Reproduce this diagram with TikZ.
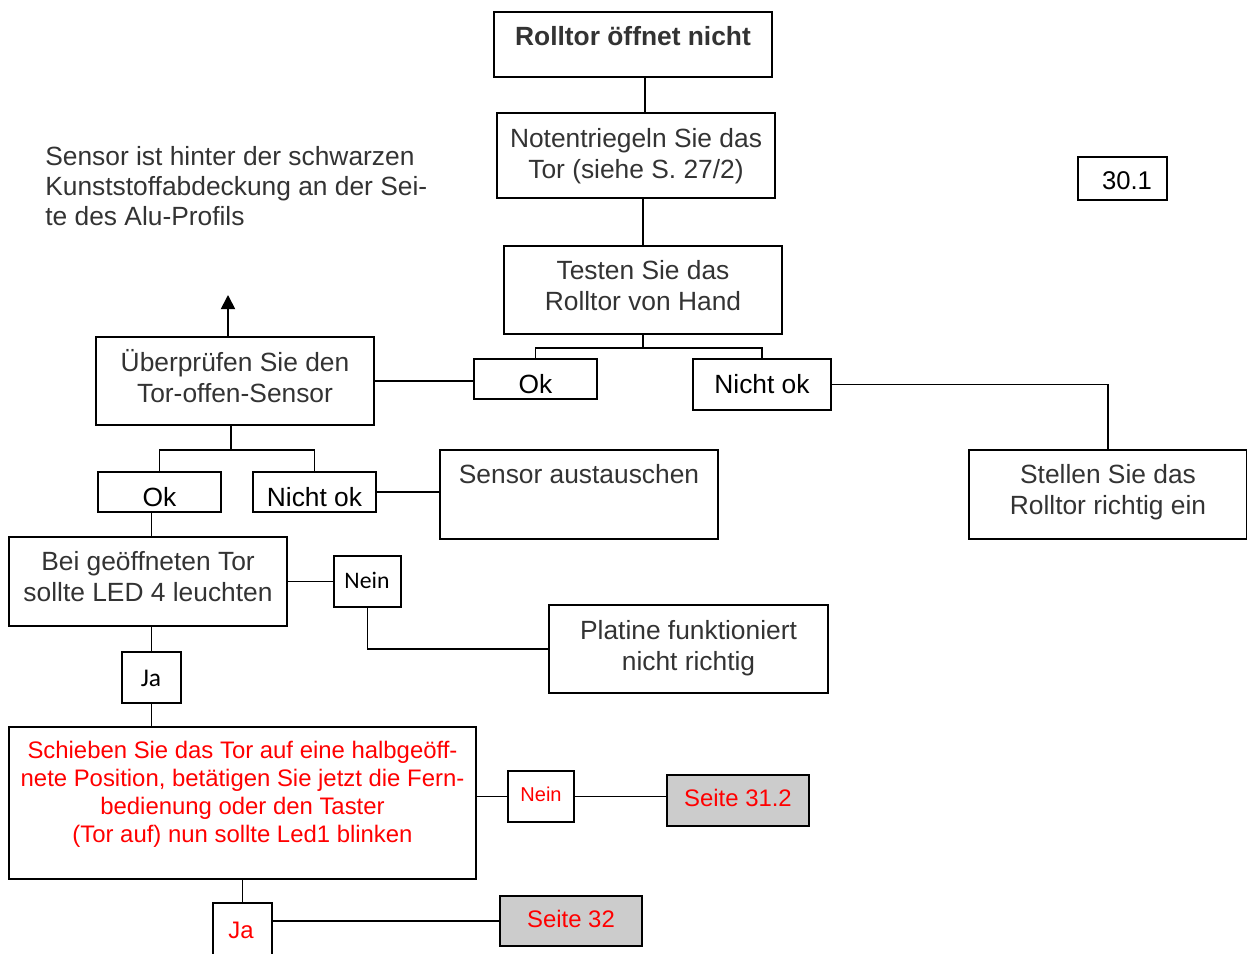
\documentclass[tikz,border=0pt]{standalone}
\usepackage{fontspec}
\setmainfont{Liberation Sans}
\newfontfamily\calibri{Carlito}
\usetikzlibrary{arrows.meta}
\definecolor{textgray}{HTML}{333333}
\definecolor{boxgray}{HTML}{CCCCCC}
\def\pu{0.02cm}
\tikzset{box/.style={draw,line width=1.2pt,rectangle,inner sep=0pt}}
\tikzset{seitebox/.style={box,fill=boxgray}}
\tikzset{txt/.style={inner sep=0pt,align=center,text=textgray,font=\fontsize{15}{17.6}\selectfont}}
\tikzset{antwort/.style={txt,text=black}}
\tikzset{janein/.style={txt,text=black,font=\calibri\fontsize{13.5}{16}\selectfont}}
\tikzset{rottxt/.style={txt,text=red,font=\fontsize{13.6}{15.9}\selectfont}}
\tikzset{conn/.style={line width=1pt}}

\begin{document}
\begin{tikzpicture}[x=0.02cm,y=-0.02cm]

\useasboundingbox (0,0) rectangle (1247,953);

    %   Kopf
    \node[box,minimum width=278*\pu,minimum height=65*\pu] (titel) at (633,44.5) {};
    \node[txt,font=\bfseries\fontsize{15}{17.6}\selectfont] (titeltxt) at (633,36) {Rolltor öffnet nicht};
    \node[box,minimum width=278*\pu,minimum height=85*\pu] (notiz) at (636,155.5) {};
    \node[txt] (notiztxt) at (636,156) {Notentriegeln Sie das\\Tor (siehe S. 27/2)};
    \node[box,minimum width=278*\pu,minimum height=88*\pu] (test) at (643,290) {};
    \node[txt] (testtxt) at (643,285.5) {Testen Sie das\\Rolltor von Hand};
    \node[box,minimum width=89*\pu,minimum height=43*\pu] (nummer) at (1122.5,178.5) {};
    \node[antwort,font=\fontsize{14.6}{17}\selectfont] (nummertxt) at (1127,181) {30.1};

    %   Hinweis
    \node[txt,align=left,anchor=west,font=\fontsize{15}{17.3}\selectfont] (hinweis) at (45,186)
        {Sensor ist hinter der schwarzen\\Kunststoffabdeckung an der Sei-\\te des Alu-Profils};

    %   Ok / Nicht ok (oben)
    \node[box,minimum width=123*\pu,minimum height=40*\pu] (ok1) at (535.5,379) {};
    \node[antwort] (ok1txt) at (535.5,384) {Ok};
    \node[box,minimum width=138*\pu,minimum height=51*\pu] (nicht1) at (762,384.5) {};
    \node[antwort] (nicht1txt) at (762,384) {Nicht ok};
    \node[box,minimum width=278*\pu,minimum height=89*\pu] (stellen) at (1108,494.5) {};
    \node[txt] (stellentxt) at (1108,492) {Stellen Sie das\\Rolltor richtig ein};

    %   Sensor
    \node[box,minimum width=278*\pu,minimum height=88*\pu] (pruef) at (235,381) {};
    \node[txt] (prueftxt) at (235,376.5) {Überprüfen Sie den\\Tor-offen-Sensor};
    \coordinate (hoch) at (228,295);
    \node[box,minimum width=123*\pu,minimum height=40*\pu] (ok2) at (159.5,492) {};
    \node[antwort] (ok2txt) at (159.5,497) {Ok};
    \node[box,minimum width=123*\pu,minimum height=40*\pu] (nicht2) at (314.5,492) {};
    \node[antwort] (nicht2txt) at (314.5,497) {Nicht ok};
    \node[box,minimum width=278*\pu,minimum height=89*\pu] (sensor) at (579,494.5) {};
    \node[txt] (sensortxt) at (579,474) {Sensor austauschen};

    %   LED 4
    \node[box,minimum width=278*\pu,minimum height=89*\pu] (bei) at (148,581.5) {};
    \node[txt] (beitxt) at (148,576.5) {Bei geöffneten Tor\\sollte LED 4 leuchten};
    \node[box,minimum width=67*\pu,minimum height=51*\pu] (nein1) at (367.5,581.5) {};
    \node[janein] (nein1txt) at (367,580) {Nein};
    \node[box,minimum width=279*\pu,minimum height=88*\pu] (platine) at (688.5,649) {};
    \node[txt] (platinetxt) at (688.5,648) {Platine funktioniert\\nicht richtig};
    \node[box,minimum width=59*\pu,minimum height=51*\pu] (ja1) at (151.5,677.5) {};
    \node[janein,font=\calibri\fontsize{14.5}{16}\selectfont] (ja1txt) at (151,678) {Ja};

    %   Led1 (rot)
    \node[box,minimum width=467*\pu,minimum height=152*\pu] (schieben) at (242.5,803) {};
    \node[rottxt] (schiebentxt) at (242.5,794)
        {Schieben Sie das Tor auf eine halbgeöff-\\nete Position, betätigen Sie jetzt die Fern-\\bedienung oder den Taster\\(Tor auf) nun sollte Led1 blinken};
    \node[box,line width=1pt,minimum width=66*\pu,minimum height=51*\pu] (nein2) at (541,796.5) {};
    \node[rottxt,font=\fontsize{11.4}{13}\selectfont] (nein2txt) at (541,794) {Nein};
    \node[seitebox,minimum width=142*\pu,minimum height=51*\pu] (seite312) at (738,800.5) {};
    \node[rottxt] (seite312txt) at (738,798) {Seite 31.2};
    \node[box,minimum width=59*\pu,minimum height=57*\pu] (ja2) at (242.5,931.5) {};
    \node[rottxt] (ja2txt) at (241,930) {Ja};
    \node[seitebox,minimum width=142*\pu,minimum height=50*\pu] (seite32) at (571,921) {};
    \node[rottxt] (seite32txt) at (571,919) {Seite 32};

    %   Verbindungen
    \draw[conn] (titel.south -| 645,0) -- (notiz.north -| 645,0);
    \draw[conn] (notiz.south -| test.north) -- (test.north);
    \draw[conn] (test.south) -- ++(0,13) coordinate (gabel1);
    \draw[conn] (gabel1) -| (ok1.north);
    \draw[conn] (gabel1) -| (nicht1.north);
    \draw[conn] (nicht1.east) -| (stellen.north);
    \draw[conn] (pruef.east) -- (pruef.east -| ok1.west);
    \draw[conn,-{Triangle[length=8pt,width=8pt]}] (pruef.north -| hoch) -- (hoch);
    \draw[conn] (pruef.south -| 231,0) -- ++(0,24) coordinate (gabel2);
    \draw[conn] (gabel2) -| (ok2.north);
    \draw[conn] (gabel2) -| (nicht2.north);
    \draw[conn] (nicht2.east) -- (nicht2.east -| sensor.west);
    \draw[conn] (ja1.north |- ok2.south) -- (ja1.north |- bei.north);
    \draw[conn] (bei.east) -- (bei.east -| nein1.west);
    \draw[conn] (nein1.south) |- (platine.west);
    \draw[conn] (ja1.north |- bei.south) -- (ja1.north);
    \draw[conn] (ja1.south) -- (ja1.south |- schieben.north);
    \draw[conn] (schieben.east |- nein2.west) -- (nein2.west);
    \draw[conn] (nein2.east) -- (nein2.east -| seite312.west);
    \draw[conn] (schieben.south) -- (ja2.north);
    \draw[conn] (seite32.west -| ja2.east) -- (seite32.west);

\end{tikzpicture}
\end{document}
